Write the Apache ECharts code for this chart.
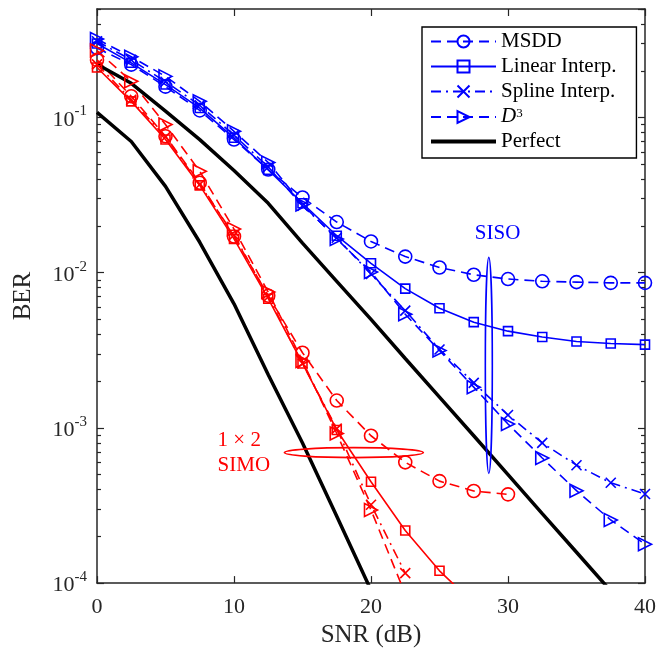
<!doctype html>
<html lang="en">
<head>
    <meta charset="UTF-8">
    <title>BER vs SNR</title>
    <style>
        html, body { margin: 0; padding: 0; background: #fff; }
    </style>
</head>
<body>
    <div id="main" style="width: 659px;height:653px;"></div>
    <script src="https://cdn.jsdelivr.net/npm/echarts@6/dist/echarts.min.js"></script>
    <script>
        var snr = [0, 2.5, 5, 7.5, 10, 12.5, 15, 17.5, 20, 22.5, 25, 27.5, 30, 32.5, 35, 37.5, 40];

        // SISO (blue)
        var sisoMsdd   = [0.28, 0.219, 0.158, 0.111, 0.0721, 0.0462, 0.0305, 0.0212, 0.0159, 0.0127, 0.0108, 0.0097, 0.0091, 0.0088, 0.0087, 0.0086, 0.0086];
        var sisoLinear = [0.30, 0.225, 0.163, 0.115, 0.074, 0.046, 0.028, 0.0173, 0.0115, 0.0079, 0.0059, 0.0048, 0.0042, 0.00385, 0.0036, 0.0035, 0.00344];
        var sisoSpline = [0.31, 0.235, 0.17, 0.12, 0.077, 0.048, 0.027, 0.0168, 0.0098, 0.0057, 0.0032, 0.00195, 0.00121, 0.0008, 0.000575, 0.000443, 0.000375];
        var sisoD3     = [0.32, 0.246, 0.184, 0.127, 0.0815, 0.0513, 0.0275, 0.0165, 0.0101, 0.0054, 0.00315, 0.00183, 0.00106, 0.00064, 0.000394, 0.000255, 0.000178];
        var sisoPerfect = [0.22, 0.166, 0.11, 0.072, 0.0455, 0.028, 0.0155, 0.0088, 0.005, 0.0028, 0.00158, 0.00089, 0.0005, 0.00028, 0.000158, 0.000089, 0.00005];

        // 1x2 SIMO (red)
        var simoMsdd   = [0.235, 0.137, 0.0757, 0.038, 0.0171, 0.0071, 0.00305, 0.0015, 0.00089, 0.0006, 0.000454, 0.000392, 0.000373];
        var simoLinear = [0.21, 0.127, 0.0722, 0.0365, 0.0165, 0.0068, 0.0026, 0.00097, 0.00045, 0.000218, 0.00012, 0.000074];
        var simoSpline = [0.22, 0.13, 0.075, 0.037, 0.0175, 0.0070, 0.0026, 0.00099, 0.00032, 0.000116];
        var simoD3     = [0.27, 0.171, 0.090, 0.045, 0.0191, 0.0075, 0.0027, 0.00092, 0.000296, 0.000085];
        var simoPerfect = [0.108, 0.070, 0.036, 0.0157, 0.0063, 0.0022, 0.0008, 0.00027, 0.00009];

        var yMin = 1e-4, yMax = 0.5;
        // minor tick positions (2..9 within each decade), in log10 units
        var yMinorLog = [];
        [1e-4, 1e-3, 1e-2, 1e-1].forEach(function (d) {
            for (var k = 2; k <= 9; k++) {
                if (d * k <= yMax) yMinorLog.push(Math.log10(d * k));
            }
        });

        var legendNames = ['MSDD', 'Linear Interp.', 'Spline Interp.', 'D3', 'Perfect'];

        var BLUE = '#0000ff', RED = '#ff0000';
        var FONT = 'Liberation Serif';
        var AX = '#262626';
        var crossPath = 'path://M0,0L10,10M10,0L0,10';

        function pairs(vals) {
            return vals.map(function (v, i) { return [snr[i], v]; });
        }

        function mk(name, vals, color, dash, symbol, size, rotate) {
            return {
                name: name,
                type: 'line',
                data: pairs(vals),
                symbol: symbol,
                symbolSize: size,
                symbolRotate: rotate || 0,
                symbolKeepAspect: true,
                showAllSymbol: true,
                clip: true,
                lineStyle: { color: color, width: 1.6, type: dash },
                itemStyle: { color: 'rgba(255,255,255,0)', borderColor: color, borderWidth: 1.6 }
            };
        }

        function perfect(vals) {
            return {
                name: 'Perfect',
                type: 'line',
                data: pairs(vals),
                symbol: 'none',
                clip: true,
                lineStyle: { color: '#000', width: 3.5 },
                itemStyle: { color: '#000' }
            };
        }

        var DASH = [10, 6];
        var DASHDOT = [10, 5, 2, 5];

        var series = [
            mk('MSDD', sisoMsdd, BLUE, DASH, 'circle', 13),
            mk('Linear Interp.', sisoLinear, BLUE, 'solid', 'rect', 9),
            mk('Spline Interp.', sisoSpline, BLUE, DASHDOT, crossPath, 10),
            mk('D3', sisoD3, BLUE, DASH, 'triangle', 13, -90),
            mk('MSDD ', simoMsdd, RED, DASH, 'circle', 13),
            mk('Linear Interp. ', simoLinear, RED, 'solid', 'rect', 9),
            mk('Spline Interp. ', simoSpline, RED, DASHDOT, crossPath, 10),
            mk('D3 ', simoD3, RED, DASH, 'triangle', 13, -90),
            perfect(sisoPerfect),
            perfect(simoPerfect)
        ];

        // main log axes (decade ticks + labels)
        function yLogAxis(pos, labels) {
            return {
                type: 'log',
                position: pos,
                min: yMin,
                max: yMax,
                logBase: 10,
                axisLine: { show: true, lineStyle: { color: AX, width: 1.5 } },
                axisTick: { show: true, inside: true, length: 7, lineStyle: { color: AX, width: 1.2 } },
                axisLabel: labels ? {
                    show: true,
                    margin: 10,
                    showMaxLabel: false,
                    formatter: function (v) {
                        var e = Math.log10(v);
                        if (Math.abs(e - Math.round(e)) > 1e-6) return '';
                        return '{b|10}{s|' + Math.round(e) + '}';
                    },
                    rich: {
                        b: { fontFamily: FONT, fontSize: 22, color: AX, lineHeight: 27, verticalAlign: 'bottom' },
                        s: { fontFamily: FONT, fontSize: 15, color: AX, lineHeight: 15, verticalAlign: 'top' }
                    }
                } : { show: false },
                splitLine: { show: false },
                name: labels ? 'BER' : '',
                nameLocation: 'middle',
                nameGap: 61,
                nameTextStyle: { fontFamily: FONT, fontSize: 25, color: AX }
            };
        }

        // helper axes in log10 units, only for the minor ticks
        function yMinorAxis(pos) {
            return {
                type: 'value',
                position: pos,
                min: Math.log10(yMin),
                max: Math.log10(yMax),
                axisLine: { show: false },
                axisTick: { show: true, inside: true, length: 4, customValues: yMinorLog, lineStyle: { color: AX, width: 1.2 } },
                axisLabel: { show: false },
                splitLine: { show: false }
            };
        }

        function xAxisDef(pos, labels) {
            return {
                type: 'value',
                position: pos,
                min: 0,
                max: 40,
                interval: 10,
                axisLine: { show: true, onZero: false, lineStyle: { color: AX, width: 1.5 } },
                axisTick: { show: true, inside: true, length: 7, lineStyle: { color: AX, width: 1.2 } },
                axisLabel: labels ? { show: true, margin: 13, fontFamily: FONT, fontSize: 22, color: AX } : { show: false },
                splitLine: { show: false },
                name: labels ? 'SNR (dB)' : '',
                nameLocation: 'middle',
                nameGap: 34,
                nameTextStyle: { fontFamily: FONT, fontSize: 25, color: AX }
            };
        }

        var myChart = echarts.init(document.getElementById('main'));

        var option = {
            backgroundColor: '#fff',
            animation: false,
            grid: { left: 97, right: 13, top: 9, bottom: 68, containLabel: false },
            xAxis: [xAxisDef('bottom', true), xAxisDef('top', false)],
            yAxis: [
                yLogAxis('left', true),
                yMinorAxis('left'),
                yLogAxis('right', false),
                yMinorAxis('right')
            ],
            legend: {
                data: legendNames.map(function (n) {
                    return n === 'Perfect' ? { name: n, icon: 'path://M0,0H65V4H0Z' } : n;
                }),
                orient: 'vertical',
                left: 422,
                top: 27,
                itemWidth: 65,
                itemHeight: 15,
                itemGap: 4,
                padding: [4, 20, 6, 8],
                backgroundColor: '#fff',
                borderColor: '#000',
                borderWidth: 1.4,
                borderRadius: 0,
                selectedMode: false,
                textStyle: {
                    fontFamily: FONT, fontSize: 21, color: '#000', lineHeight: 20,
                    rich: {
                        i: { fontFamily: FONT, fontSize: 21, fontStyle: 'italic', color: '#000', lineHeight: 20, verticalAlign: 'bottom' },
                        s: { fontFamily: FONT, fontSize: 13, color: '#000', lineHeight: 12, verticalAlign: 'top' }
                    }
                },
                formatter: function (name) {
                    return name === 'D3' ? '{i|D}{s|3}' : name;
                }
            },
            series: series
        };

        myChart.setOption(option);

        // annotations, placed in data coordinates
        function px(x, y) {
            return myChart.convertToPixel({ xAxisIndex: 0, yAxisIndex: 0 }, [x, y]);
        }
        var sisoC = px(28.6, 0.00253);
        var simoC = px(18.75, 0.000693);
        var sisoT = px(29.24, 0.0179);
        var simoT = px(8.8, 0.000693);

        myChart.setOption({
            graphic: [
                { type: 'ellipse', shape: { cx: sisoC[0], cy: sisoC[1], rx: 3.5, ry: 108 }, style: { fill: 'none', stroke: BLUE, lineWidth: 1.6 }, z: 100 },
                { type: 'ellipse', shape: { cx: simoC[0], cy: simoC[1], rx: 69.5, ry: 5 }, style: { fill: 'none', stroke: RED, lineWidth: 1.6 }, z: 100 },
                { type: 'text', x: sisoT[0], y: sisoT[1], style: { text: 'SISO', fill: BLUE, font: '21px "' + FONT + '"', align: 'center', verticalAlign: 'middle' }, z: 100 },
                { type: 'text', x: simoT[0], y: simoT[1], style: { text: '1 \u00d7 2\nSIMO', fill: RED, font: '21px "' + FONT + '"', align: 'left', verticalAlign: 'middle', lineHeight: 25 }, z: 100 }
            ]
        });
    </script>
</body>
</html>
